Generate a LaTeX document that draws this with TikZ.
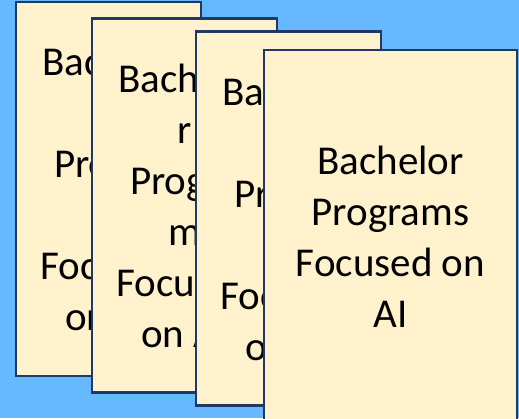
\documentclass[tikz,border=0pt]{standalone}
\usepackage{fontspec}
\setmainfont{Carlito}
\usetikzlibrary{positioning}

\definecolor{skyback}{RGB}{102,185,255}
\definecolor{cardfill}{RGB}{255,242,204}
\definecolor{cardline}{RGB}{31,56,100}

\begin{document}
\begin{tikzpicture}[x=1pt,y=-1pt,
  card/.style={draw=cardline,line width=2.6pt,fill=cardfill,minimum width=185pt,minimum height=374pt,
    inner sep=0pt,align=center,font=\fontsize{41pt}{51pt}\selectfont}]
  \fill[skyback] (0,0) rectangle (519,418);
  \useasboundingbox (0,0) rectangle (519,418);
  \clip (0,0) rectangle (519,418);
  \node[card] (card1) at (108.5,189) {Bachelo\\r\\Progra\\m\\Focused\\on AI};
  \node[card] (card2) at (184.5,205.5) {Bachelo\\r\\Progra\\m\\Focused\\on AI};
  \node[card] (card3) at (288.5,218.5) {Bachelo\\r\\Progra\\m\\Focused\\on AI};
  \node[card,minimum width=253pt] (card4) at (390.5,237) {Bachelor\\Programs\\Focused on\\AI};
\end{tikzpicture}
\end{document}
